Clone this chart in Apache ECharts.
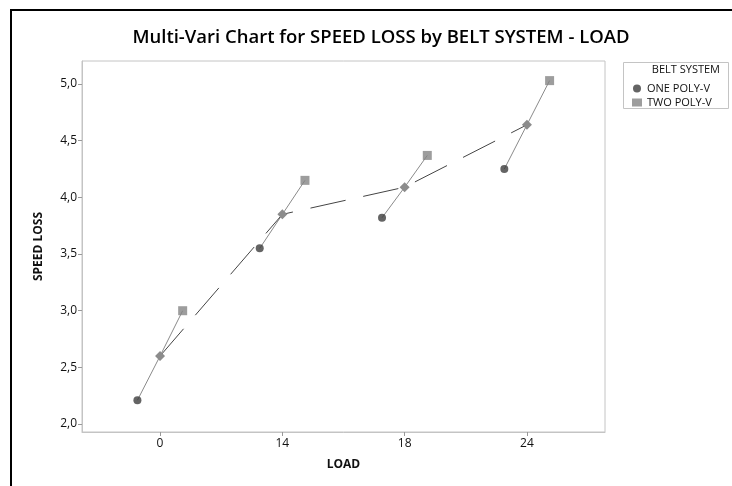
<!DOCTYPE html>
<html>
<head>
<meta charset="utf-8">
<script src="https://cdn.jsdelivr.net/npm/echarts@6/dist/echarts.min.js"></script>
<style>html,body{margin:0;padding:0;background:#fff}#c{width:732px;height:486px}</style>
</head>
<body>
<div id="c"></div>
<script>
const loads = ['0', '14', '18', '24'];
const onePolyV = [2.21, 3.55, 3.82, 4.25];
const twoPolyV = [3.00, 4.15, 4.37, 5.03];
const loadMeans = [2.60, 3.85, 4.09, 4.64];
const yTicks = [2.0, 2.5, 3.0, 3.5, 4.0, 4.5, 5.0];
const groupOffset = 0.185;

const FONT = '"Open Sans", "Noto Sans", sans-serif';
const chart = echarts.init(document.getElementById('c'), null, {renderer: 'canvas'});

const groupLines = loads.map((l, i) => ({
  type: 'line',
  silent: true,
  symbol: 'none',
  z: 2,
  lineStyle: {color: '#8a8a8a', width: 1},
  data: [[i - groupOffset, onePolyV[i]], [i, loadMeans[i]], [i + groupOffset, twoPolyV[i]]]
}));

chart.setOption({
  animation: false,
  textStyle: {fontFamily: FONT},
  title: {
    text: 'Multi-Vari Chart for SPEED LOSS by BELT SYSTEM - LOAD',
    left: 376, top: 23, textAlign: 'center',
    textStyle: {fontFamily: FONT, fontSize: 18.5, fontWeight: 600, color: '#000'}
  },
  grid: {left: 82, top: 61, width: 523, height: 371, show: true, borderColor: '#c4c4c4', borderWidth: 1, containLabel: false},
  legend: {
    orient: 'vertical', left: 627, top: 78, itemGap: 3, itemWidth: 10, itemHeight: 8,
    textStyle: {fontFamily: FONT, fontSize: 11, color: '#111'},
    data: ['ONE POLY-V', 'TWO POLY-V']
  },
  xAxis: {
    type: 'value', min: -0.638, max: 3.638,
    name: 'LOAD', nameLocation: 'middle', nameGap: 27,
    nameTextStyle: {fontFamily: FONT, fontSize: 12, fontWeight: 'bold', color: '#111'},
    splitLine: {show: false},
    axisLine: {show: true, onZero: false, lineStyle: {color: '#c4c4c4'}},
    axisTick: {show: true, length: 4, lineStyle: {color: '#999'}, customValues: [0, 1, 2, 3]},
    axisLabel: {customValues: [0, 1, 2, 3], formatter: v => loads[Math.round(v)], fontSize: 12, color: '#111', margin: 6}
  },
  yAxis: {
    type: 'value', min: 1.93, max: 5.203,
    name: 'SPEED LOSS', nameLocation: 'middle', nameGap: 37,
    nameTextStyle: {fontFamily: FONT, fontSize: 12, fontWeight: 'bold', color: '#111'},
    splitLine: {show: false},
    axisLine: {show: true, onZero: false, lineStyle: {color: '#c4c4c4'}},
    axisTick: {show: true, length: 4, lineStyle: {color: '#999'}, customValues: yTicks},
    axisLabel: {customValues: yTicks, formatter: v => v.toFixed(1).replace('.', ','), fontSize: 12, color: '#111', margin: 5}
  },
  graphic: [
    {type: 'rect', shape: {x: 11, y: 10, width: 800, height: 600}, style: {fill: 'none', stroke: '#000', lineWidth: 2}, silent: true},
    {type: 'rect', shape: {x: 623.5, y: 62.5, width: 105, height: 46}, style: {fill: '#fff', stroke: '#c4c4c4', lineWidth: 1}, z: 0, silent: true},
    {type: 'text', x: 720, y: 70, style: {text: 'BELT SYSTEM', fill: '#111', font: '11px ' + FONT, textAlign: 'right', textVerticalAlign: 'middle'}, silent: true}
  ],
  series: groupLines.concat([
    {
      type: 'line', name: 'mean', silent: true, z: 3,
      symbol: 'diamond', symbolSize: 10,
      itemStyle: {color: '#8c8c8c'},
      lineStyle: {color: '#444', width: 1, type: [36, 18]},
      data: loadMeans.map((v, i) => [i, v])
    },
    {
      type: 'scatter', name: 'ONE POLY-V', z: 4,
      symbol: 'circle', symbolSize: 8,
      itemStyle: {color: '#3d3d3d'},
      data: onePolyV.map((v, i) => [i - groupOffset, v])
    },
    {
      type: 'scatter', name: 'TWO POLY-V', z: 4,
      symbol: 'rect', symbolSize: 9,
      itemStyle: {color: '#848484'},
      data: twoPolyV.map((v, i) => [i + groupOffset, v])
    }
  ])
});
</script>
</body>
</html>
